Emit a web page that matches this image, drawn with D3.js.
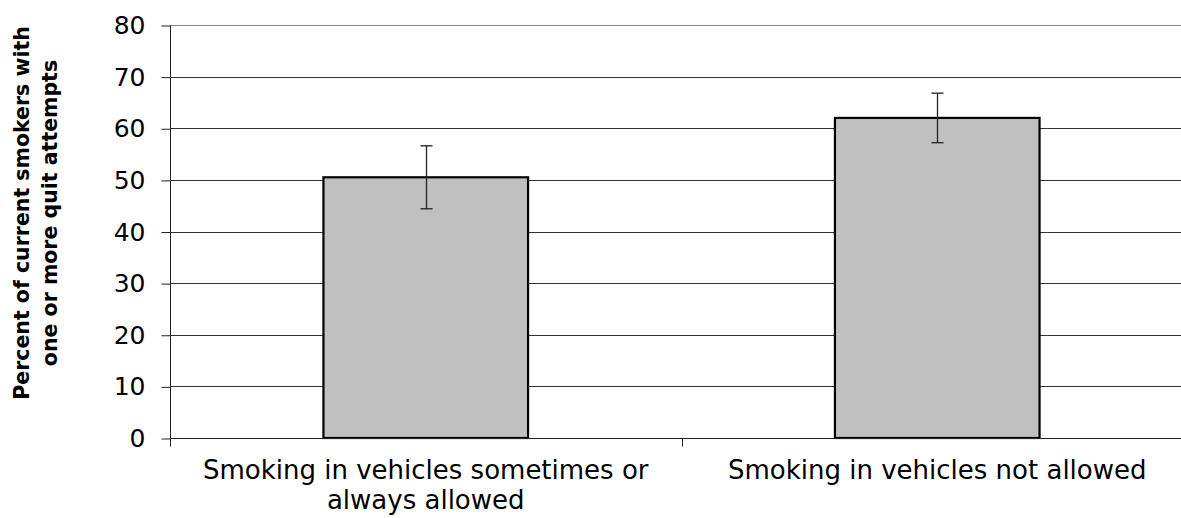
<!DOCTYPE html>
<html><head><meta charset="utf-8">
<script src="https://cdn.jsdelivr.net/npm/d3@7"></script>
<style>body{margin:0;background:#fff}svg{display:block}</style>
</head><body>
<svg id="c" width="1181" height="518"></svg>
<script>
const categories = [["Smoking in vehicles sometimes or", "always allowed"], ["Smoking in vehicles not allowed"]];
const values = [50.5, 62.0];
const errLow = [44.4, 57.2];
const errHigh = [56.6, 66.8];
const yTicks = [0, 10, 20, 30, 40, 50, 60, 70, 80];
const yTitle = ["Percent of current smokers with", "one or more quit attempts"];

(function () {
const svg = d3.select("#c");
const pl = 170, pr = 1193, pt = 25, pb = 438;
const x = d3.scaleBand().domain(d3.range(categories.length)).range([pl, pr]).paddingInner(0).paddingOuter(0);
const y = d3.scaleLinear().domain([0, 80]).range([pb, pt]);
const font = "Verdana, 'DejaVu Sans', sans-serif";

// gridlines
svg.append("g").selectAll("line").data(yTicks.filter(d => d > 0)).join("line")
  .attr("x1", pl).attr("x2", 1181)
  .attr("y1", d => Math.round(y(d)) + 0.5).attr("y2", d => Math.round(y(d)) + 0.5)
  .attr("stroke", d => d === 80 ? "#888" : "#333").attr("stroke-width", 1);

// y axis
const yAxis = d3.axisLeft(y).tickValues(yTicks).tickSize(9).tickPadding(16);
const gy = svg.append("g").attr("transform", `translate(${pl + 0.5},0.5)`).call(yAxis);
gy.select(".domain").attr("stroke", "#222").attr("d", `M0,${pt}V${pb + 7}`);
gy.selectAll(".tick line").attr("stroke", "#222");
gy.selectAll(".tick text").attr("font-family", font).attr("font-size", 25).attr("fill", "#000");

// bars
const bw = x.bandwidth() * 0.4;
svg.append("g").selectAll("rect").data(values).join("rect")
  .attr("x", (d, i) => x(i) + (x.bandwidth() - bw) / 2)
  .attr("y", d => y(d))
  .attr("width", bw)
  .attr("height", d => y(0) - y(d))
  .attr("fill", "#c0c0c0").attr("stroke", "#000").attr("stroke-width", 2.2);

// x axis
const gx = svg.append("g").attr("transform", `translate(0,${pb + 0.5})`);
gx.append("line").attr("x1", pl).attr("x2", 1181).attr("stroke", "#222");
gx.selectAll(".tk").data(d3.range(categories.length + 1)).join("line").attr("class", "tk")
  .attr("x1", i => Math.round(pl + i * x.bandwidth()) + 0.5).attr("x2", i => Math.round(pl + i * x.bandwidth()) + 0.5)
  .attr("y1", 0).attr("y2", 8).attr("stroke", "#222");

// error bars
const eg = svg.append("g").attr("stroke", "#222").attr("stroke-width", 1.3);
values.forEach((v, i) => {
  const cx = Math.round(x(i) + x.bandwidth() / 2) + 0.5;
  eg.append("line").attr("x1", cx).attr("x2", cx).attr("y1", y(errHigh[i])).attr("y2", y(errLow[i]));
  eg.append("line").attr("x1", cx - 6).attr("x2", cx + 6).attr("y1", y(errHigh[i])).attr("y2", y(errHigh[i]));
  eg.append("line").attr("x1", cx - 6).attr("x2", cx + 6).attr("y1", y(errLow[i])).attr("y2", y(errLow[i]));
});

// category labels
categories.forEach((lines, i) => {
  const t = svg.append("text").attr("text-anchor", "middle").attr("font-family", font).attr("font-size", 26).attr("fill", "#000");
  lines.forEach((s, k) => t.append("tspan").attr("x", x(i) + x.bandwidth() / 2).attr("y", 479 + k * 30).text(s));
});

// y title
const tt = svg.append("text").attr("transform", "translate(0,213) rotate(-90)")
  .attr("text-anchor", "middle").attr("font-family", font).attr("font-weight", "bold").attr("font-size", 20.5).attr("fill", "#000");
yTitle.forEach((s, k) => tt.append("tspan").attr("x", 0).attr("y", 29 + k * 28).text(s));
})();
</script>
</body></html>
